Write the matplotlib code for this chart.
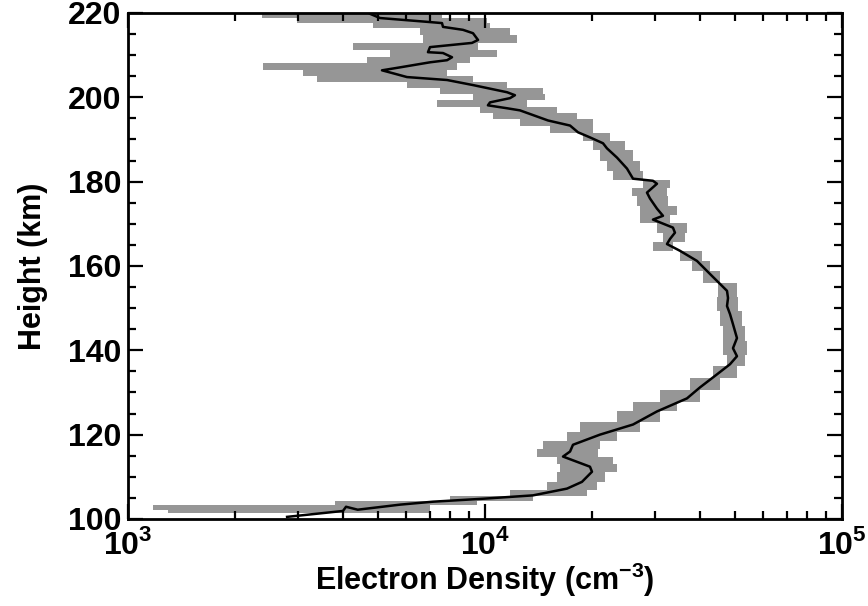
import numpy as np
import matplotlib
matplotlib.use("Agg")
import matplotlib.pyplot as plt
from matplotlib.ticker import LogLocator, MultipleLocator, FixedLocator

plt.rcParams['font.family'] = ['Liberation Sans', 'DejaVu Sans']
plt.rcParams['font.weight'] = 'bold'
plt.rcParams['mathtext.fontset'] = 'custom'
plt.rcParams['mathtext.rm'] = 'Liberation Sans:bold'
plt.rcParams['mathtext.bf'] = 'Liberation Sans:bold'

# mean profile (height km, density cm^-3), bottom to top
prof_h = [100.5, 101.9, 102.9, 102.2, 103.4, 104.1, 104.8, 105.6, 107.2, 108.8,
          111.2, 112.4, 114.8, 116.0, 117.6, 120.0, 122.4, 125.5, 128.6, 131.2,
          134.3, 136.7, 138.6, 140.5, 142.9, 146.2, 148.6, 150.5, 152.4, 154.1,
          158.1, 161.2, 163.6, 165.2, 166.4, 167.9, 169.1, 171.0, 171.9, 173.6,
          176.0, 177.4, 179.5, 180.2, 180.7, 183.1, 185.7, 187.9, 189.1, 190.5,
          191.7, 193.3, 194.5, 196.9, 197.4, 198.1, 198.8, 199.8, 200.5, 201.2,
          202.9, 204.1, 204.8, 205.7, 206.4, 207.1, 208.3, 208.8, 209.5, 210.5,
          210.7, 211.9, 212.9, 213.6, 215.2, 216.0, 216.7, 217.6, 217.9, 218.8,
          219.8]
prof_n = [2790, 4000, 4080, 4400, 5780, 7150, 9870, 13630, 16970, 18690,
          19940, 19680, 16540, 17310, 17640, 20990, 25980, 30320, 36800, 40010,
          44660, 48570, 50800, 49510, 50800, 49510, 48570, 47640, 47950, 47640,
          42690, 39250, 35170, 32340, 32980, 34050, 33610, 29550, 31520, 30320,
          28990, 28430, 30320, 29550, 25980, 24990, 23430, 21960, 21410, 19680,
          18220, 17310, 15020, 12530, 11530, 10190, 10330, 11750, 12130, 11530,
          9255, 7830, 6045, 5525, 5146, 5780, 7014, 7830, 8084, 7627,
          6922, 7014, 9196, 9560, 9255, 8677, 7627, 7578, 6878, 5080,
          4764]

# spread of the individual profiles (height bins, min, max)
band_h = [101.4, 102.9, 103.8, 104.8, 106.0, 107.6, 110.0, 112.1, 113.8, 115.7,
          117.6, 119.5, 121.9, 124.3, 126.7, 129.0, 132.1, 135.0, 137.4, 140.5,
          144.0, 147.6, 151.2, 154.3, 157.4, 160.0, 162.4, 164.5, 166.7, 169.0,
          171.2, 173.1, 175.5, 177.6, 179.5, 181.4, 183.8, 186.2, 188.6, 190.7,
          192.6, 194.0, 195.5, 196.9, 198.6, 200.0, 201.4, 202.9, 204.3, 205.7,
          207.4, 208.8, 210.5, 212.1, 213.8, 215.7, 217.1, 218.3, 219.3, 220.0]
band_lo = [1294, 1175, 3800, 7980, 11750, 14920, 15910, 16220, 15910, 13980,
           14540, 16970, 18460, 23430, 25980, 30910, 37520, 43510, 47640, 46420,
           46420, 45530, 44660, 44950, 40790, 38000, 35170, 29550, 31520, 30320,
           27180, 27180, 26650, 25810, 27710, 22830, 21960, 21000, 20070, 18810,
           15210, 12530, 10530, 9683, 7336, 9255, 7480, 6045, 3383, 3091,
           2388, 4672, 5418, 4268, 6705, 6575, 4857, 2974, 2373, 2373]
band_hi = [7014, 7014, 9497, 13630, 19310, 20590, 21690, 23430, 22830, 20730,
           21000, 23430, 27180, 30910, 34490, 40010, 45530, 50800, 53500, 54200,
           53500, 52480, 51130, 50800, 45530, 42690, 40530, 33610, 36330, 36800,
           32980, 34490, 32550, 32340, 32980, 27710, 27180, 25980, 24670, 22390,
           20070, 20070, 18100, 15910, 13110, 14730, 14540, 11530, 9255, 7827,
           8349, 9078, 10800, 9560, 12290, 11750, 10330, 10130, 7578, 7578]

fig = plt.figure(figsize=(8.68, 6.06), dpi=100)
ax = fig.add_axes([0.1475, 0.1436, 0.8225, 0.835])

ax.fill_betweenx(band_h, band_lo, band_hi, step='mid', color='#969696', lw=0)
ax.plot(prof_n, prof_h, color='black', lw=1.8)

ax.set_xscale('log')
ax.set_xlim(1e3, 1e5)
ax.set_ylim(100, 220)

ax.xaxis.set_major_locator(FixedLocator([1e3, 1e4, 1e5]))
ax.xaxis.set_minor_locator(LogLocator(base=10, subs=np.arange(2, 10)))
ax.set_xticklabels([r'$10^{3}$', r'$10^{4}$', r'$10^{5}$'])
ax.yaxis.set_major_locator(MultipleLocator(20))
ax.yaxis.set_minor_locator(MultipleLocator(5))

ax.tick_params(which='both', direction='in', top=True, right=True, width=1.6)
ax.tick_params(which='major', length=11)
ax.tick_params(which='minor', length=6)
ax.tick_params(axis='x', labelsize=23, pad=7)
ax.tick_params(axis='y', labelsize=23, pad=5)
for s in ax.spines.values():
    s.set_linewidth(2.0)

ax.set_xlabel('Electron Density (cm$^{-3}$)', fontsize=22, fontweight='bold', labelpad=0)
ax.set_ylabel('Height (km)', fontsize=22, fontweight='bold', labelpad=14)

fig.savefig('out.png', dpi=100)
